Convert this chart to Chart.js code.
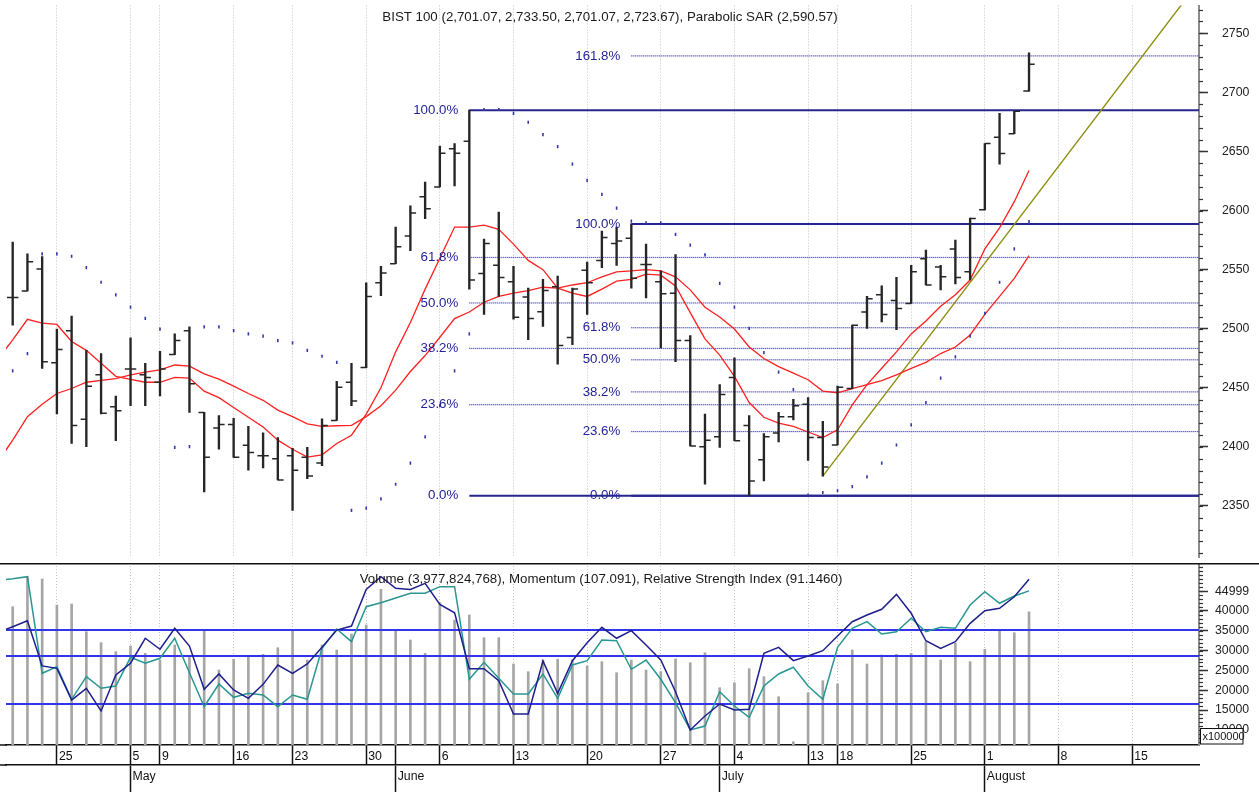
<!DOCTYPE html>
<html>
<head>
<meta charset="utf-8">
<script src="https://cdn.jsdelivr.net/npm/chart.js@4.4.1/dist/chart.umd.min.js"></script>
<style>
  html, body { margin: 0; padding: 0; background: #fff; }
  #wrap { position: relative; width: 1259px; height: 792px; overflow: hidden; }
  canvas { position: absolute; left: 0; }
  #price { top: 0; }
  #ind { top: 563px; }
</style>
</head>
<body>
<div id="wrap">
  <canvas id="price" width="1259" height="563"></canvas>
  <canvas id="ind" width="1259" height="229"></canvas>
</div>
<script>
// trading sessions shown as bars
const sessions = [
  '2022-04-20','2022-04-21','2022-04-22','2022-04-25','2022-04-26','2022-04-27','2022-04-28','2022-04-29',
  '2022-05-05','2022-05-06','2022-05-09','2022-05-10','2022-05-11','2022-05-12','2022-05-13','2022-05-16',
  '2022-05-17','2022-05-18','2022-05-20','2022-05-23','2022-05-24','2022-05-25','2022-05-26','2022-05-27',
  '2022-05-30','2022-05-31','2022-06-01','2022-06-02','2022-06-03','2022-06-06','2022-06-07','2022-06-08',
  '2022-06-09','2022-06-10','2022-06-13','2022-06-14','2022-06-15','2022-06-16','2022-06-17','2022-06-20',
  '2022-06-21','2022-06-22','2022-06-23','2022-06-24','2022-06-27','2022-06-28','2022-06-29','2022-06-30',
  '2022-07-01','2022-07-04','2022-07-05','2022-07-06','2022-07-07','2022-07-08','2022-07-13','2022-07-14',
  '2022-07-18','2022-07-19','2022-07-20','2022-07-21','2022-07-22','2022-07-25','2022-07-26','2022-07-27',
  '2022-07-28','2022-07-29','2022-08-01','2022-08-02','2022-08-03','2022-08-04'
];
// empty sessions to the right of the last bar
const futureSessions = [
  '2022-08-05','2022-08-08','2022-08-09','2022-08-10','2022-08-11','2022-08-12',
  '2022-08-15','2022-08-16','2022-08-17','2022-08-18','2022-08-19'
];

const open = [2526.5,2532,2550.5,2471.3,2498.3,2423.4,2461,2433.9,2466,2461,2454.7,2478.1,2498.3,2429.2,2416,2419,
  2401.3,2392.5,2390,2392.5,2391.3,2386.3,2422.3,2454.7,2467.1,2538.9,2555,2578.5,2611.7,2620,2652.3,2658.7,
  2546.7,2553.6,2539.8,2526.8,2514.4,2535.6,2492.5,2549.5,2557.8,2572.1,2576.6,2554.4,2539.8,2530,2490,2400.2,
  2408.5,2458.8,2418.2,2389.2,2411.8,2425.6,2436.1,2407.9,2401.6,2449.4,2514.1,2528.7,2523.8,2521.3,2559.2,2552.2,
  2567.5,2548.1,2600.6,2662,2665,2701.07];
const high = [2573.4,2563.3,2561.1,2499.7,2510.7,2481.7,2479,2443.1,2492.2,2470.7,2480.9,2495.6,2501.6,2429.2,2426.5,2424.2,
  2417.4,2411.8,2407.9,2398.8,2399.6,2423.7,2455.5,2470.7,2538.9,2552.8,2586,2604,2624.1,2654.5,2656.7,2684.9,
  2575.8,2598.6,2552.8,2534.3,2541.8,2544.5,2534.3,2556.4,2582.6,2586,2588.7,2571.6,2548.9,2562.7,2494.2,2427.8,
  2452.7,2475.4,2426.5,2411.2,2429.2,2440.2,2441.7,2421.7,2451.4,2503,2527.3,2536.2,2543.4,2553.6,2566.6,2553.6,
  2574.9,2593.7,2656.7,2682.2,2684,2733.5];
const low = [2503,2532,2466.5,2427.8,2402.9,2400.2,2427.8,2405.2,2434.8,2434.8,2443.1,2478.1,2429.2,2362,2398,2391.1,
  2380.3,2382.2,2372,2346.3,2373.1,2384.2,2422.3,2434.8,2467.1,2527.9,2555,2566,2593.2,2620,2620.8,2533.5,
  2512.1,2527.3,2508,2490.8,2501.9,2469.9,2486.4,2512.1,2551.7,2553.6,2534.3,2526,2483.7,2472.1,2400.8,2368.4,
  2399.6,2405.2,2358.7,2371.2,2404.3,2422.8,2388.6,2375.3,2401.6,2449.4,2500.3,2505.8,2499.1,2521.3,2537,2532.9,
  2537.9,2541.2,2600.6,2639.3,2665,2701.07];
const close = [2526.5,2556.7,2472.1,2482.5,2418.2,2451.4,2428.4,2430.6,2466,2458.8,2466,2490,2453.5,2391.3,2419,2391.3,
  2395.2,2392.5,2372,2380.3,2375.3,2418.2,2450.5,2438.9,2527.3,2547.2,2569.4,2598,2601.5,2648.4,2648.4,2541.2,
  2572.1,2543.4,2509.7,2508.6,2532.3,2485.9,2533.5,2538.9,2577.1,2574.3,2542.6,2554.4,2529.6,2490,2400.8,2405.7,
  2444.4,2405.2,2371.2,2408.5,2425.6,2434.8,2407.9,2383,2450.5,2503,2525.4,2512.1,2517.1,2548.1,2537,2543.9,
  2543.4,2593.2,2656.7,2648.2,2684,2723.67];

const sar = [2464.3,2479,2563.3,2563.3,2561.3,2551.7,2539.3,2528.7,2518.2,2508.8,2499.7,2399.6,2400.2,2501.6,2501.6,2498.3,
  2495.6,2493.7,2490,2488.1,2481.7,2476.7,2471.5,2346.3,2348.2,2356,2368.4,2386.3,2408.5,2435,2464.3,2495.6,
  2685.5,2685.5,2682.2,2674.7,2664.2,2654,2639.3,2625.5,2613.6,2602,2591,2589.5,2589.5,2579.9,2570.8,2562.5,
  2538.4,2518.2,2500.3,2479.8,2463.2,2448.5,2359.3,2361.4,2362.9,2366.4,2374.7,2386.3,2401.6,2418.7,2437.5,2458.2,
  2476.2,2493.7,2513,2539.3,2567.5,2590.57];

// the two red averages, the momentum and the RSI start one session earlier (19 Apr, off the left edge)
const maFast = [2474.2,2490.6,2508,2504.7,2503.6,2489.2,2481.7,2470.7,2459.7,2457.2,2454.7,2454.7,2458.8,2458.2,2447.2,2441.7,
  2433.4,2425.1,2416.8,2405.7,2398,2391.3,2393.3,2402.9,2409.9,2427.8,2450,2480.4,2505.3,2533.5,2559.7,2586,
  2586,2587.6,2584.1,2571.6,2557.8,2550,2534.3,2530.1,2527.3,2533.5,2540.3,2541.8,2546.2,2545.3,2536.2,2513.6,
  2491.4,2477.6,2459.7,2437.5,2425.1,2420.1,2417.4,2412.6,2407.9,2414.5,2435.6,2452.7,2466.5,2480.4,2495.6,2506.6,
  2519,2528.7,2541.2,2567.5,2585.4,2607.5,2633.8];
const maSlow = [2387.3,2405.8,2425.6,2436.1,2445.2,2449.4,2454.7,2456.3,2457.7,2461,2463.2,2465.1,2469.3,2468.4,2461.8,2457.4,
  2451.4,2445.2,2439.4,2431.1,2425.6,2419.5,2417.4,2417.9,2418.2,2425.6,2434.8,2448,2463.8,2477.3,2492.8,2508.6,
  2514.1,2522.4,2527.3,2530.1,2532.3,2535.1,2534.3,2537,2538.9,2543.9,2548.1,2548.9,2550,2548.9,2543.9,2532.9,
  2518.2,2509.9,2499.7,2484.5,2474.8,2467.9,2462.4,2456.8,2447.2,2445.8,2449.4,2452.7,2456,2461,2466.5,2471.5,
  2479,2484.5,2494.7,2512.1,2527.3,2542.6,2561.9];
const momentum = [102.19,102.71,103.26,99.08,98.86,95.93,97.01,94.92,98.24,99.33,101.64,100.62,102.56,100.92,96.92,98.34,
  96.86,96.09,97.38,99.17,98.40,99.26,100.80,102.40,102.77,106.16,107.33,106.26,106.16,106.72,104.78,104.00,
  98.83,98.83,97.72,94.64,94.64,99.54,96.55,99.57,101.23,102.65,101.64,102.34,101.02,99.63,96.70,93.16,
  94.45,95.56,95.01,95.07,100.25,100.80,99.57,100.00,100.49,101.85,103.17,103.79,104.32,105.70,103.95,101.41,
  100.71,101.32,103.02,104.19,104.41,105.48,107.091];
const rsi = [96.86,97.73,98.81,46.59,50.18,32.54,44.76,38.49,39.73,55.24,52.00,54.70,65.51,46.92,28.54,40.81,
  33.62,35.78,34.86,28.54,34.86,32.54,60.11,70.54,63.68,82.59,84.76,87.30,89.84,89.84,93.41,93.41,
  43.35,52.54,43.89,35.41,35.41,46.22,33.08,51.08,53.41,64.59,64.22,48.76,53.78,43.35,30.70,15.95,
  18.11,36.65,28.92,22.81,39.73,46.22,49.84,39.73,32.54,60.65,70.92,74.49,67.84,69.08,76.32,69.08,
  71.46,70.92,83.51,90.70,84.43,88.38,91.146];
// volume in units of 100000 shares
const volume = [41086,48661,48080,41515,41768,34773,32000,29723,31163,29319,27628,31415,28461,35203,25103,27804,
  28461,29067,30733,35203,27628,31415,30153,34193,36465,45479,35203,32678,29319,42096,37728,38990,
  33258,33258,26618,24673,27628,27804,27628,26113,27198,24421,27628,25103,24673,27880,26946,29471,
  20633,21896,25431,23411,18361,7000,19371,22401,21568,30153,26618,28890,29067,29319,32248,27628,
  31844,27198,30329,35379,34521,39778];

const priceTicks = [2350, 2400, 2450, 2500, 2550, 2600, 2650, 2700, 2750];
const volumeTicks = [10000, 15000, 20000, 25000, 30000, 35000, 40000, 44999];
const monthNames = ['January','February','March','April','May','June','July','August','September','October','November','December'];

// Fibonacci retracements: [low, high] of each swing and the session it is drawn from
const fibRatios = [0, 0.236, 0.382, 0.5, 0.618, 1];
const fibA = [2358.7, 2684.9];
const fibB = [2358.7, 2588.7];
const fibStart = ['2022-06-08', '2022-06-23'];
const fibExtB = [1.618];
// trend line through two anchor points
const trendDates = ['2022-07-14', '2022-08-04'];
const trendValues = [2375.3, 2604.6];
const rsiLevels = [70, 30];
const momentumLevels = [100];

const FONT = '"Liberation Sans", Arial, Helvetica, sans-serif';
const axisFont = { family: FONT, size: 12.3 };
const xMin = -0.455, xMax = 80.54;

const allSessions = sessions.concat(futureSessions);
const at = d => allSessions.indexOf(d);
const weekOf = d => Math.floor((Date.parse(d) / 86400000 + 3) / 7);
const weekStarts = [], monthStarts = [];
allSessions.forEach((d, i) => {
  if (i === 0) return;
  const prev = allSessions[i - 1];
  if (weekOf(d) !== weekOf(prev)) weekStarts.push(i);
  if (d.slice(5, 7) !== prev.slice(5, 7)) monthStarts.push(i);
});
const dayAxisTicks = Array.from(new Set(weekStarts.concat(monthStarts))).sort((a, b) => a - b);

const fromPrev = arr => arr.map((v, i) => ({ x: i - 1, y: v }));
const tickShift = 0.19;

function fibDatasets(swing, startDate, ratios) {
  const s = at(startDate);
  return ratios.map(r => {
    const v = swing[0] + r * (swing[1] - swing[0]);
    const solid = r === 0 || r === 1;
    return {
      type: 'line', data: [{ x: s, y: v }, { x: xMax, y: v }],
      fibLabel: (r * 100).toFixed(1) + '%',
      borderColor: solid ? '#26268f' : '#2a2a9c', borderWidth: solid ? 2 : 1.2,
      borderDash: solid ? [] : [1, 1], pointRadius: 0, order: 10
    };
  });
}

function minorTicks(chart, id, step, len) {
  const s = chart.scales[id], ctx = chart.ctx;
  ctx.save();
  ctx.strokeStyle = '#333';
  ctx.lineWidth = 1.2;
  for (let k = Math.ceil(s.min / step); k * step <= s.max; k++) {
    const y = Math.round(s.getPixelForValue(k * step)) + 0.5;
    ctx.beginPath();
    ctx.moveTo(s.left, y);
    ctx.lineTo(s.left + len, y);
    ctx.stroke();
  }
  ctx.restore();
}

const priceOverlay = {
  id: 'priceOverlay',
  afterDraw(chart) {
    const ctx = chart.ctx;
    minorTicks(chart, 'y', 10, 4);
    ctx.save();
    ctx.font = '13.3px ' + FONT;
    ctx.textBaseline = 'middle';
    ctx.textAlign = 'right';
    ctx.fillStyle = '#24249a';
    chart.data.datasets.forEach((ds, i) => {
      if (!ds.fibLabel) return;
      const p = chart.getDatasetMeta(i).data[0];
      ctx.fillText(ds.fibLabel, p.x - 11, p.y);
    });
    ctx.textAlign = 'center';
    ctx.fillStyle = '#1a1a1a';
    ctx.fillText('BIST 100 (2,701.07, 2,733.50, 2,701.07, 2,723.67), Parabolic SAR (2,590.57)', 610, 17);
    ctx.restore();
  }
};

const indOverlay = {
  id: 'indOverlay',
  afterDraw(chart) {
    const ctx = chart.ctx;
    const s = chart.scales.y;
    minorTicks(chart, 'y', 1000, 4);
    ctx.save();
    ctx.strokeStyle = '#111';
    ctx.lineWidth = 1.5;
    ctx.beginPath();
    ctx.moveTo(0, 0.75);
    ctx.lineTo(chart.width, 0.75);
    // axis row rules run to the left edge of the page
    [chart.scales.x.top, chart.scales.x2.top].forEach(y => {
      ctx.moveTo(0, y);
      ctx.lineTo(chart.chartArea.left + 1, y);
    });
    ctx.stroke();
    ctx.font = '13.3px ' + FONT;
    ctx.textBaseline = 'middle';
    ctx.textAlign = 'center';
    ctx.fillStyle = '#1a1a1a';
    ctx.fillText('Volume (3,977,824,768), Momentum (107.091), Relative Strength Index (91.1460)', 601, 16);
    ctx.fillStyle = '#fff';
    ctx.fillRect(s.left + 1, s.bottom - 17, 43, 16);
    ctx.strokeStyle = '#111';
    ctx.lineWidth = 1;
    ctx.strokeRect(s.left + 1.5, s.bottom - 16.5, 42.5, 15.5);
    ctx.font = '11px ' + FONT;
    ctx.textAlign = 'left';
    ctx.fillStyle = '#111';
    ctx.fillText('x100000', s.left + 3.5, s.bottom - 8.5);
    ctx.restore();
  }
};

const yRight = (min, max, ticks, pad) => ({
  type: 'linear', position: 'right', min: min, max: max,
  afterBuildTicks: s => { s.ticks = ticks.map(v => ({ value: v })); },
  afterFit: s => { s.width = 60; s.paddingTop = 0; s.paddingBottom = 0; },
  ticks: { color: '#222', font: axisFont, padding: pad, callback: v => String(v) },
  grid: { drawOnChartArea: false, tickLength: 9, tickColor: '#333', tickWidth: 1.5 },
  border: { color: '#8c8c8c', width: 2 }
});

new Chart(document.getElementById('price'), {
  type: 'line',
  data: {
    datasets: [
      ...fibDatasets(fibA, fibStart[0], fibRatios),
      ...fibDatasets(fibB, fibStart[1], fibRatios.concat(fibExtB)),
      {
        type: 'line', order: 9, borderColor: '#8e8e12', borderWidth: 1.4, pointRadius: 0,
        data: [
          { x: at(trendDates[0]), y: trendValues[0] },
          { x: xMax, y: trendValues[0] + (trendValues[1] - trendValues[0]) / (at(trendDates[1]) - at(trendDates[0])) * (xMax - at(trendDates[0])) }
        ]
      },
      { type: 'line', order: 6, data: fromPrev(maFast), borderColor: '#ff2020', borderWidth: 1.3, pointRadius: 0 },
      { type: 'line', order: 6, data: fromPrev(maSlow), borderColor: '#ff2020', borderWidth: 1.3, pointRadius: 0 },
      {
        type: 'line', order: 5, showLine: false, data: sar.map((v, i) => ({ x: i, y: v })),
        pointStyle: 'line', pointRotation: 90, pointRadius: 1.6, pointBorderWidth: 1.6, pointBorderColor: '#3636a6'
      },
      {
        type: 'bar', order: 3, grouped: false, barThickness: 1.7, backgroundColor: '#262626',
        data: sessions.map((d, i) => ({ x: i, y: [low[i], high[i]] }))
      },
      {
        type: 'line', order: 2, showLine: false, data: open.map((v, i) => ({ x: i - tickShift, y: v })),
        pointStyle: 'line', pointRadius: 2.9, pointBorderWidth: 1.5, pointBorderColor: '#262626'
      },
      {
        type: 'line', order: 2, showLine: false, data: close.map((v, i) => ({ x: i + tickShift, y: v })),
        pointStyle: 'line', pointRadius: 2.9, pointBorderWidth: 1.5, pointBorderColor: '#262626'
      }
    ]
  },
  options: {
    responsive: false, animation: false, devicePixelRatio: 1, events: [],
    layout: { padding: { left: 6, right: 0, top: 0, bottom: 0 } },
    plugins: { legend: { display: false }, tooltip: { enabled: false } },
    scales: {
      x: {
        type: 'linear', min: xMin, max: xMax, offset: false,
        afterBuildTicks: s => { s.ticks = weekStarts.map(v => ({ value: v })); },
        afterFit: s => { s.height = 0; s.paddingLeft = 0; s.paddingRight = 0; },
        ticks: { display: false, autoSkip: false },
        grid: { offset: false, color: '#c2c2c2', lineWidth: 1, drawTicks: false },
        border: { display: false, dash: [1, 2] }
      },
      y: yRight(2306.5, 2773.4, priceTicks, 14)
    }
  },
  plugins: [priceOverlay]
});

new Chart(document.getElementById('ind'), {
  type: 'line',
  data: {
    datasets: [
      {
        type: 'bar', order: 10, grouped: false, barThickness: 2, backgroundColor: '#a6a6a6',
        xAxisID: 'x', yAxisID: 'y', data: volume.map((v, i) => ({ x: i, y: v }))
      },
      ...rsiLevels.map(v => ({
        type: 'line', order: 8, xAxisID: 'x', yAxisID: 'yR', borderColor: '#3434ea', borderWidth: 2, pointRadius: 0,
        data: [{ x: xMin, y: v }, { x: xMax, y: v }]
      })),
      ...momentumLevels.map(v => ({
        type: 'line', order: 8, xAxisID: 'x', yAxisID: 'yM', borderColor: '#3434ea', borderWidth: 2, pointRadius: 0,
        data: [{ x: xMin, y: v }, { x: xMax, y: v }]
      })),
      { type: 'line', order: 5, xAxisID: 'x', yAxisID: 'yR', data: fromPrev(rsi), borderColor: '#2a9691', borderWidth: 1.5, pointRadius: 0 },
      { type: 'line', order: 4, xAxisID: 'x', yAxisID: 'yM', data: fromPrev(momentum), borderColor: '#1e1e8e', borderWidth: 1.5, pointRadius: 0 }
    ]
  },
  options: {
    responsive: false, animation: false, devicePixelRatio: 1, events: [],
    layout: { padding: { left: 6, right: 0, top: 0, bottom: 0 } },
    plugins: { legend: { display: false }, tooltip: { enabled: false } },
    scales: {
      x: {
        type: 'linear', position: 'bottom', weight: 0, min: xMin, max: xMax, offset: false,
        afterBuildTicks: s => { s.ticks = dayAxisTicks.map(v => ({ value: v })); },
        afterFit: s => { s.height = 20; s.paddingLeft = 0; s.paddingRight = 0; },
        ticks: {
          autoSkip: false, maxRotation: 0, minRotation: 0, align: 'start', labelOffset: 2, padding: -15.7,
          color: '#111', font: axisFont,
          callback: v => weekStarts.includes(v) ? String(+allSessions[v].slice(8, 10)) : ''
        },
        grid: {
          offset: false,
          color: c => (c.tick && weekStarts.includes(c.tick.value)) ? '#c2c2c2' : 'rgba(0,0,0,0)',
          lineWidth: 1, tickLength: 20, tickColor: '#111', tickWidth: 1.5
        },
        border: { display: true, color: '#111', width: 1.5, dash: [1, 2] }
      },
      x2: {
        type: 'linear', position: 'bottom', weight: 1, min: xMin, max: xMax, offset: false,
        afterBuildTicks: s => { s.ticks = monthStarts.map(v => ({ value: v })); },
        afterFit: s => { s.height = 27; s.paddingLeft = 0; s.paddingRight = 0; },
        ticks: {
          autoSkip: false, maxRotation: 0, minRotation: 0, align: 'start', labelOffset: 2, padding: -22.7,
          color: '#111', font: axisFont,
          callback: v => monthNames[+allSessions[v].slice(5, 7) - 1]
        },
        grid: { offset: false, drawOnChartArea: false, tickLength: 27, tickColor: '#111', tickWidth: 1.5 },
        border: { display: true, color: '#111', width: 1.5 }
      },
      y: yRight(6165, 52120, volumeTicks, 7),
      yM: { type: 'linear', display: false, min: 91.77, max: 108.6 },
      yR: { type: 'linear', display: false, min: 7.84, max: 106.2 }
    }
  },
  plugins: [indOverlay]
});
</script>
</body>
</html>
